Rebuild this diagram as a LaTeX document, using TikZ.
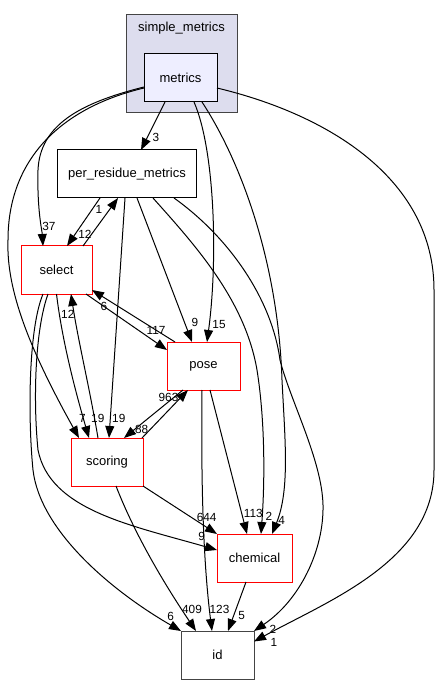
\documentclass[tikz,border=0pt]{standalone}
\usepackage{fontspec}
\setmainfont{Liberation Sans}
\usetikzlibrary{positioning,arrows.meta,calc}
\definecolor{clusterFill}{HTML}{DDDDEE}
\definecolor{currentFill}{HTML}{EEEEFF}
\definecolor{borderGray}{HTML}{444444}

\begin{document}
\begin{tikzpicture}[x=1pt, y=-1pt,
    dirBox/.style={draw=black, line width=1pt, outer sep=0pt, minimum width=72pt, minimum height=48pt, inner xsep=11pt, font=\fontsize{13}{15}\selectfont},
    redBox/.style={dirBox, draw=red},
    clusterBox/.style={draw=borderGray, line width=1pt, outer sep=0pt, fill=clusterFill, minimum width=111pt, minimum height=98pt},
    edgeLabel/.style={inner sep=0pt, font=\fontsize{11.8}{13}\selectfont},
    arrow/.style={-{Triangle[length=12pt, width=9pt]}, line width=1pt, draw=black}
]
\useasboundingbox (0,0) rectangle (439,684);
\node[clusterBox] (smCluster) at (181.5,64) {};
\node[font=\fontsize{13}{15}\selectfont] (smLabel) at (181.5,28) {simple\_metrics};
\node[dirBox, fill=currentFill, minimum width=73pt] (metrics) at (180.5,78) {metrics};
\node[dirBox, below=48pt of metrics, xshift=-53.5pt] (prm) {per\_residue\_metrics};
\node[redBox, minimum width=71pt, below=48pt of prm, xshift=-70.5pt] (select) {select};
\node[redBox, minimum width=73pt, below=48pt of select, xshift=147pt] (pose) {pose};
\node[redBox, below=48pt of pose, xshift=-96.5pt] (scoring) {scoring};
\node[redBox, minimum width=75pt, below=48pt of scoring, xshift=147.5pt] (chemical) {chemical};
\node[dirBox, draw=borderGray, minimum width=73pt, below=49pt of chemical, xshift=-37pt] (id) {id};
% from metrics
\draw[arrow] ([xshift=-15.5pt]metrics.south) -- ([xshift=14pt]prm.north);
\draw[arrow] ([yshift=-9pt]metrics.west) .. controls (80,103) and (40,125) .. (38,170)
    .. controls (37,210) and (42,230) .. ([xshift=-13.5pt]select.north);
\draw[arrow] ([yshift=-10pt]metrics.west) .. controls (60,108) and (8,160) .. (8,240)
    .. controls (6,290) and (30,350) .. ([xshift=-28pt]scoring.north);
\draw[arrow] ([xshift=13.5pt]metrics.south) .. controls (215,150) and (218,260) .. ([xshift=3.5pt]pose.north);
\draw[arrow] ([xshift=21.5pt]metrics.south) .. controls (240,160) and (278,260) .. (282,380)
    .. controls (285,440) and (290,490) .. ([xshift=17.5pt]chemical.north);
\draw[arrow] ([yshift=-10pt]metrics.east) .. controls (330,115) and (434,180) .. (434,290)
    -- (434,470) .. controls (434,560) and (330,600) .. ([yshift=13.5pt]id.east);
% from per_residue_metrics
\draw[arrow] ([xshift=-27pt]prm.south) -- ([xshift=10.5pt]select.north);
\draw[arrow] ([xshift=-2pt]prm.south) -- ([xshift=2pt]scoring.north);
\draw[arrow] ([xshift=10pt]prm.south) -- ([xshift=-11.5pt]pose.north);
\draw[arrow] ([xshift=26pt]prm.south) .. controls (195,245) and (245,300) .. (257,370)
    .. controls (265,420) and (265,480) .. ([xshift=6.5pt]chemical.north);
\draw[arrow] ([xshift=47pt]prm.south) .. controls (230,238) and (272,300) .. (280,360)
    .. controls (290,400) and (322,460) .. (323,505)
    .. controls (324,550) and (300,600) .. (id.north east);
% from select
\draw[arrow] ([xshift=26.5pt]select.north) -- ([xshift=-9pt]prm.south);
\draw[arrow] ([xshift=-6pt]select.south east) -- ([yshift=16pt]pose.west);
\draw[arrow] (select.south) .. controls (62,340) and (75,390) .. ([xshift=-18pt]scoring.north);
\draw[arrow] ([xshift=-8.5pt]select.south) .. controls (35,330) and (33,400) .. (38,450)
    .. controls (50,510) and (130,525) .. ([yshift=8pt]chemical.west);
\draw[arrow] ([xshift=-13.5pt]select.south) .. controls (28,330) and (28,420) .. (33,470)
    .. controls (40,530) and (110,590) .. (id.north west);
% from pose
\draw[arrow] ([xshift=8pt]pose.north west) -- ([yshift=-20pt]select.east);
\draw[arrow] ([xshift=-20.5pt]pose.south) -- ([xshift=17pt]scoring.north);
\draw[arrow] ([xshift=6.5pt]pose.south) -- ([xshift=-7.5pt]chemical.north);
\draw[arrow] ([xshift=-1.5pt]pose.south) .. controls (201,480) and (203,560) .. ([xshift=-5.5pt]id.north);
% from scoring
\draw[arrow] ([xshift=-9pt]scoring.north) .. controls (90,390) and (78,340) .. ([xshift=14.5pt]select.south);
\draw[arrow] ([xshift=-1pt]scoring.north east) -- ([xshift=-15.5pt]pose.south);
\draw[arrow] (scoring.south east) -- (chemical.north west);
\draw[arrow] ([xshift=9pt]scoring.south) .. controls (135,535) and (165,585) .. ([xshift=-21.5pt]id.north);
% from chemical
\draw[arrow] ([xshift=-8.5pt]chemical.south) -- ([xshift=10.5pt]id.north);
% edge labels
\node[edgeLabel] (l3) at (156,137.5) {3};
\node[edgeLabel] (l37) at (49,226) {37};
\node[edgeLabel] (l7) at (82.5,418.7) {7};
\node[edgeLabel] (l15) at (219,324.7) {15};
\node[edgeLabel] (l4) at (281.7,520.5) {4};
\node[edgeLabel] (l1) at (274,642) {1};
\node[edgeLabel] (l12a) at (85,234.5) {12};
\node[edgeLabel] (l1b) at (99,209) {1};
\node[edgeLabel] (l19a) at (118.8,418.5) {19};
\node[edgeLabel] (l9a) at (195,322) {9};
\node[edgeLabel] (l2a) at (269,516.7) {2};
\node[edgeLabel] (l2b) at (273,629) {2};
\node[edgeLabel] (l117) at (156,330) {117};
\node[edgeLabel] (l6a) at (104,306) {6};
\node[edgeLabel] (l19b) at (97.8,418.5) {19};
\node[edgeLabel] (l12b) at (67.8,314) {12};
\node[edgeLabel] (l9b) at (201.7,536.7) {9};
\node[edgeLabel] (l6b) at (170.7,616.7) {6};
\node[edgeLabel] (l88) at (141.7,429.5) {88};
\node[edgeLabel] (l963) at (168.5,397.5) {963};
\node[edgeLabel] (l113) at (253.3,513.7) {113};
\node[edgeLabel] (l123) at (219.5,609.5) {123};
\node[edgeLabel] (l644) at (206.7,517.5) {644};
\node[edgeLabel] (l409) at (192,609.5) {409};
\node[edgeLabel] (l5) at (241.7,615.8) {5};
\end{tikzpicture}
\end{document}
